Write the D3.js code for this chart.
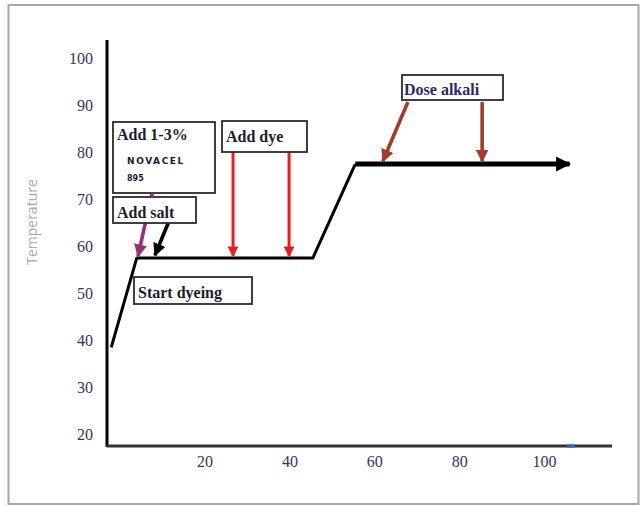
<!DOCTYPE html>
<html>
<head>
<meta charset="utf-8">
<script src="https://cdn.jsdelivr.net/npm/d3@7"></script>
<style>
  body { margin: 0; background: #fff; }
  svg { display: block; }
</style>
</head>
<body>
<svg id="chart" width="640" height="506"></svg>
<script>
// dyeing profile (time, temperature)
var profileTime = [-2, 4, 45.5, 55.5, 106];
var profileTemp = [41, 60, 60, 80, 80];

var yTicks = [20, 30, 40, 50, 60, 70, 80, 90, 100];
var xTicks = [20, 40, 60, 80, 100];

// annotation arrows: tail -> tip, in (time, temp)
var arrowFromTime = [7.6, 11.4, 26.7, 39.9, 67.9, 85.4];
var arrowFromTemp = [73.8, 67.4, 82.6, 82.6, 93.2, 93.2];
var arrowToTime = [4.3, 8.3, 26.7, 39.9, 62.0, 85.4];
var arrowToTemp = [60.4, 60.6, 60.4, 60.4, 80.6, 80.6];
var arrowKind = ["novacel", "salt", "dye", "dye", "alkali", "alkali"];

var boxLabels = ["Add 1-3%", "Add salt", "Add dye", "Dose alkali", "Start dyeing"];

var svg = d3.select("#chart");

var x = d3.scaleLinear().domain([-3, 116]).range([107, 612]);
var y = d3.scaleLinear().domain([20, 106.4]).range([446, 40]);

// outer frame
svg.append("rect")
  .attr("x", 8.5).attr("y", 5)
  .attr("width", 630).attr("height", 499)
  .attr("fill", "#fff")
  .attr("stroke", "#a8a8a8")
  .attr("stroke-width", 2);

// y axis title
svg.append("text")
  .attr("transform", "translate(37,222) rotate(-90)")
  .attr("text-anchor", "middle")
  .attr("font-family", "'Open Sans', sans-serif")
  .attr("font-size", 14)
  .attr("fill", "#a9a9a9")
  .text("Temperature");

// axes
var yAxis = svg.append("g")
  .attr("transform", "translate(" + x(-3) + ",0)")
  .call(d3.axisLeft(y).tickValues(yTicks).tickSize(0).tickPadding(14));
yAxis.select(".domain").remove();
yAxis.selectAll("text")
  .attr("dy", "-0.4em")
  .attr("font-family", "'Liberation Serif', serif")
  .attr("font-size", 16)
  .attr("fill", "#34345c");

var xAxis = svg.append("g")
  .attr("transform", "translate(0," + y(20) + ")")
  .call(d3.axisBottom(x).tickValues(xTicks).tickSize(0).tickPadding(10));
xAxis.select(".domain").remove();
xAxis.selectAll("text")
  .attr("font-family", "'Liberation Serif', serif")
  .attr("font-size", 16)
  .attr("fill", "#34345c");

svg.append("line")
  .attr("x1", x(-3)).attr("x2", x(-3))
  .attr("y1", y(106.4)).attr("y2", y(20) + 1)
  .attr("stroke", "#000").attr("stroke-width", 3);
svg.append("line")
  .attr("x1", x(-3)).attr("x2", x(116))
  .attr("y1", y(20)).attr("y2", y(20))
  .attr("stroke", "#333").attr("stroke-width", 3);
svg.append("line")
  .attr("x1", x(105.4)).attr("x2", x(107.3))
  .attr("y1", y(20)).attr("y2", y(20))
  .attr("stroke", "#3060c0").attr("stroke-width", 3);

// arrow markers
var colors = { novacel: "#962f78", salt: "#000", dye: "#f01c1c", alkali: "#a33a2a" };
var defs = svg.append("defs");
Object.keys(colors).forEach(function (k) {
  defs.append("marker")
    .attr("id", "head-" + k)
    .attr("viewBox", "0 0 10 10")
    .attr("refX", 9).attr("refY", 5)
    .attr("markerWidth", 3.6).attr("markerHeight", 3.6)
    .attr("orient", "auto")
    .append("path")
    .attr("d", "M0,0 L10,5 L0,10 Z")
    .attr("fill", colors[k]);
});
defs.append("marker")
  .attr("id", "head-main")
  .attr("viewBox", "0 0 10 10")
  .attr("refX", 9).attr("refY", 5)
  .attr("markerWidth", 3.2).attr("markerHeight", 3)
  .attr("orient", "auto")
  .append("path")
  .attr("d", "M0,0 L10,5 L0,10 Z")
  .attr("fill", "#000");

// profile curve
var pts = profileTime.map(function (t, i) { return [x(t), y(profileTemp[i])]; });
svg.append("path")
  .attr("d", d3.line()(pts.slice(0, 4)))
  .attr("fill", "none")
  .attr("stroke", "#000")
  .attr("stroke-width", 3)
  .attr("stroke-linejoin", "round");
svg.append("path")
  .attr("d", d3.line()(pts.slice(3)))
  .attr("fill", "none")
  .attr("stroke", "#000")
  .attr("stroke-width", 5)
  .attr("marker-end", "url(#head-main)");

// annotation arrows
arrowKind.forEach(function (k, i) {
  svg.append("line")
    .attr("x1", x(arrowFromTime[i])).attr("y1", y(arrowFromTemp[i]))
    .attr("x2", x(arrowToTime[i])).attr("y2", y(arrowToTemp[i]))
    .attr("stroke", colors[k])
    .attr("stroke-width", k === "dye" ? 3 : 3.6)
    .attr("marker-end", "url(#head-" + k + ")");
});

// label boxes
var boxes = [
  { x: 113, y: 122, w: 102, h: 71 },
  { x: 113, y: 197, w: 83, h: 26 },
  { x: 222, y: 121, w: 85, h: 31 },
  { x: 402, y: 75, w: 101, h: 25 },
  { x: 134, y: 277, w: 118, h: 27 }
];
var textY = [140, 218, 142, 95, 298];

boxes.forEach(function (b, i) {
  svg.append("rect")
    .attr("x", b.x).attr("y", b.y)
    .attr("width", b.w).attr("height", b.h)
    .attr("fill", "#fff")
    .attr("stroke", "#2b2b2b")
    .attr("stroke-width", 1.8);
  svg.append("text")
    .attr("x", b.x + (i === 3 ? 2 : 4))
    .attr("y", textY[i])
    .attr("font-family", "'Liberation Serif', serif")
    .attr("font-weight", "bold")
    .attr("font-size", 16)
    .attr("fill", i === 3 ? "#2a2a66" : "#1c1c30")
    .text(boxLabels[i]);
});

svg.append("text")
  .attr("x", 127).attr("y", 164)
  .attr("font-family", "'DejaVu Sans', sans-serif")
  .attr("font-weight", "bold")
  .attr("font-size", 9)
  .attr("letter-spacing", 1.6)
  .attr("fill", "#1c1c30")
  .text("NOVACEL");
svg.append("text")
  .attr("x", 127).attr("y", 181)
  .attr("font-family", "'DejaVu Sans', sans-serif")
  .attr("font-weight", "bold")
  .attr("font-size", 8)
  .attr("fill", "#1c1c30")
  .text("895");

// short purple stub between the two left boxes
svg.append("line")
  .attr("x1", x(7.6)).attr("x2", x(7.6))
  .attr("y1", y(73.8)).attr("y2", y(73.8) + 4)
  .attr("stroke", colors.novacel).attr("stroke-width", 3);
</script>
</body>
</html>
